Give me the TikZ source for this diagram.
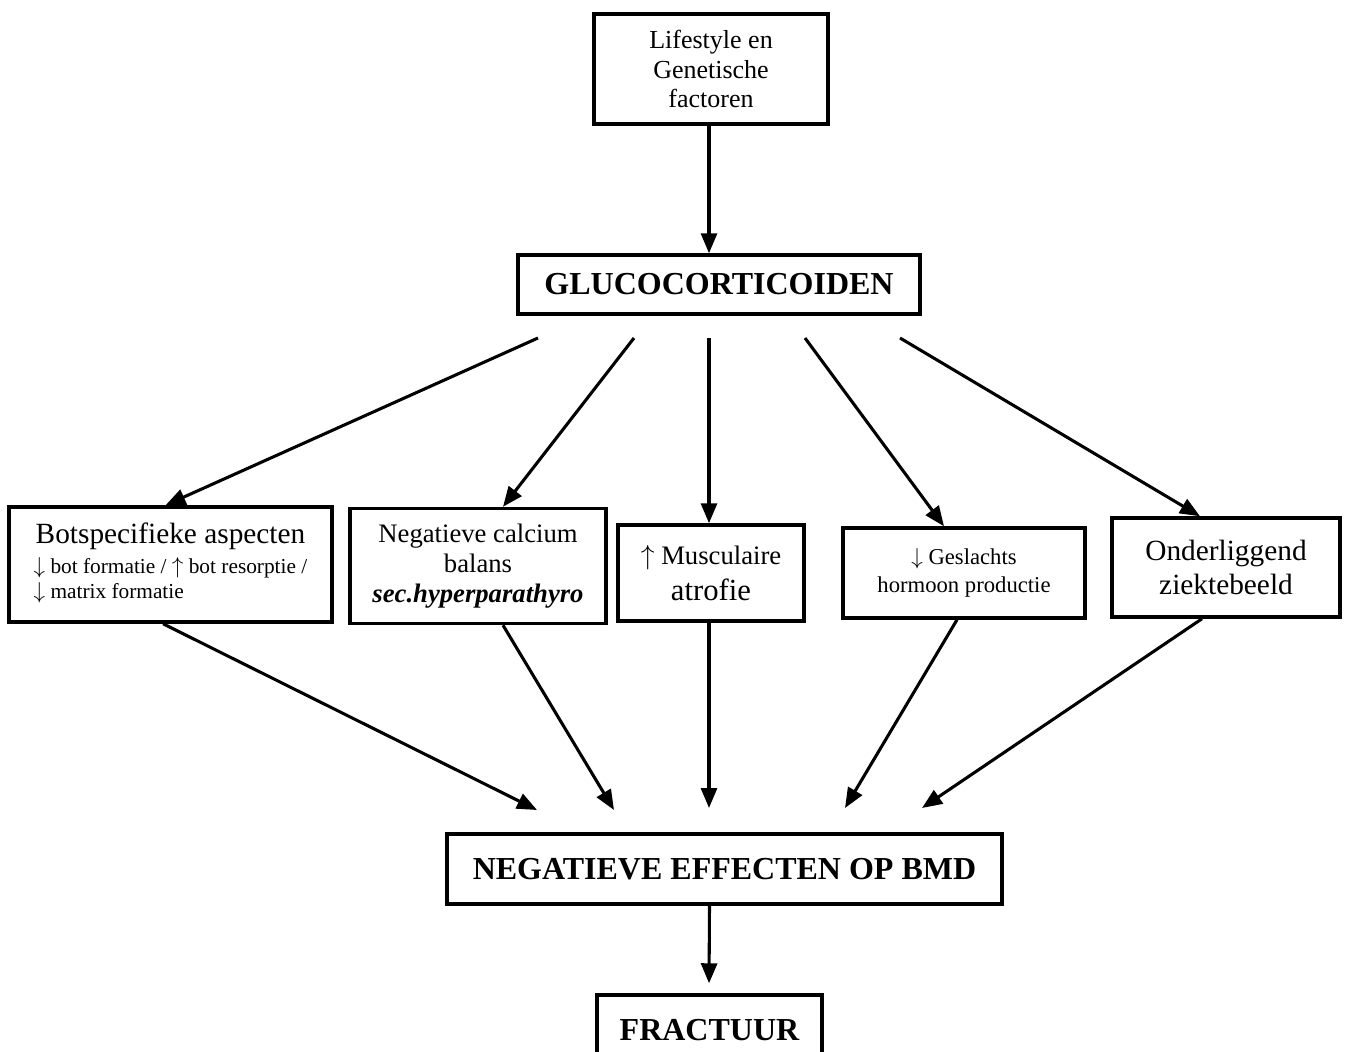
\documentclass[tikz,border=0pt]{standalone}
\usepackage{fontspec}
\setmainfont{Liberation Serif}
\usetikzlibrary{arrows.meta}
\newcommand{\fs}[2]{\fontsize{#1}{#2}\selectfont}
\begin{document}
\begin{tikzpicture}[x=0.75pt,y=-0.75pt,
  box/.style={draw,line width=2.6pt,rectangle,inner sep=0pt,align=center,anchor=center},
  arr/.style={line width=2.3pt,-{Triangle[length=15pt,width=12pt]}}]
\useasboundingbox (0,0) rectangle (1359,1052);
\node[box,minimum width=175.5pt,minimum height=82.5pt,font=\fs{19.5}{22}] (life) at (711,69)
  {Lifestyle en\\Genetische\\factoren};
\node[box,minimum width=301.5pt,minimum height=44.25pt,font=\fs{24}{26}\bfseries] (gluco) at (719,284.5)
  {GLUCOCORTICOIDEN};
\node[box,minimum width=242.25pt,minimum height=86.25pt,font=\fs{22}{24}] (bot) at (170.5,564.5)
  {Botspecifieke aspecten\\[3pt]
   {\fs{16}{19}\begin{tabular}{@{}l@{}}$\downarrow$ bot formatie / $\uparrow$ bot resorptie /\\$\downarrow$ matrix formatie\end{tabular}}};
\node[box,minimum width=192pt,minimum height=86.25pt,font=\fs{20}{22.5}] (cal) at (478,566)
  {Negatieve calcium\\balans\\\textbf{\textit{sec.hyperparathyro}}};
\node[box,minimum width=139.5pt,minimum height=72pt,font=\fs{23}{27}] (mus) at (711,573)
  {{\fs{20}{24}$\uparrow$ Musculaire}\\atrofie};
\node[box,minimum width=181.5pt,minimum height=67.5pt,font=\fs{17}{21}] (ges) at (964,573)
  {$\downarrow$ Geslachts\\hormoon productie};
\node[box,minimum width=171pt,minimum height=74.25pt,font=\fs{22}{25.5}] (ond) at (1226,567.5)
  {Onderliggend\\ziektebeeld};
\node[box,minimum width=416.25pt,minimum height=52.5pt,font=\fs{24}{26}\bfseries] (neg) at (724.5,869)
  {NEGATIEVE EFFECTEN OP BMD};
\node[box,minimum width=168.75pt,minimum height=52.5pt,font=\fs{24}{26}\bfseries] (frac) at (709.5,1030)
  {FRACTUUR};
\coordinate (g1) at (538,338);
\coordinate (g2) at (634,338);
\coordinate (g3) at (709,338);
\coordinate (g4) at (805,338);
\coordinate (g5) at (900,338);
\coordinate (l1) at (537,810);
\coordinate (l2) at (614,810);
\coordinate (l3) at (709,808);
\coordinate (l4) at (845,808);
\coordinate (l5) at (922,808);
\draw[arr] ([xshift=-1.5pt]life.south) -- ([xshift=-7.5pt]gluco.north);
\draw[arr] (g1) -- ([xshift=-3.75pt]bot.north);
\draw[arr] (g2) -- ([xshift=18.75pt]cal.north);
\draw[arr] (g3) -- ([xshift=-1.5pt]mus.north);
\draw[arr] (g4) -- ([xshift=-15pt]ges.north);
\draw[arr] (g5) -- ([xshift=-19.5pt]ond.north);
\draw[arr] ([xshift=-5.6pt]bot.south) -- (l1);
\draw[arr] ([xshift=18.75pt]cal.south) -- (l2);
\draw[arr] ([xshift=-1.5pt]mus.south) -- (l3);
\draw[arr] ([xshift=-5.25pt]ges.south) -- (l4);
\draw[arr] ([xshift=-18pt]ond.south) -- (l5);
\draw[arr,shorten >=7.5pt] ([xshift=-11.25pt]neg.south) -- ([xshift=-0.4pt]frac.north);
\end{tikzpicture}
\end{document}
